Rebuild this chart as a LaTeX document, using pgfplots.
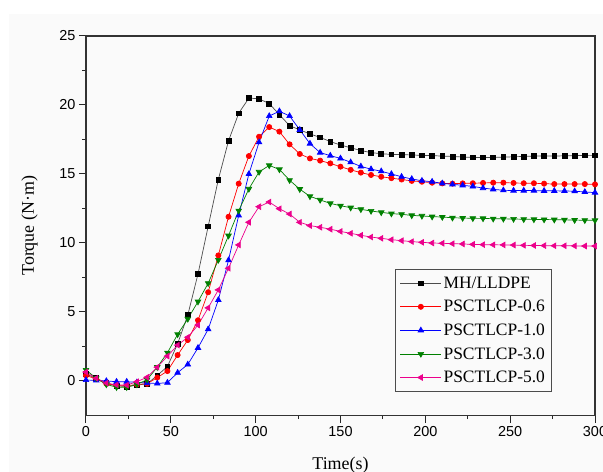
\documentclass[border=0pt]{standalone}
\usepackage{fontspec}
\setmainfont{Liberation Serif}
\newfontfamily\sansf{Liberation Sans}
\usepackage{pgfplots}
\pgfplotsset{compat=1.18}
\usepackage{pgfplotstable}
\definecolor{bgcol}{RGB}{250,250,250}
\definecolor{cgreen}{RGB}{0,128,0}

\pgfplotstableread{
t a b c d e
0 0.5 0.4 0.07 0.8 0.65
6 0.2 0.15 0.05 0.2 0.2
12 -0.15 -0.2 0.0 -0.25 -0.15
18 -0.35 -0.35 -0.05 -0.45 -0.28
24 -0.4 -0.35 -0.05 -0.45 -0.3
30 -0.3 -0.25 -0.1 -0.25 -0.05
36 -0.2 -0.2 -0.15 0.1 0.27
42 0.4 0.25 -0.18 1.0 1.0
48 1.05 0.72 -0.12 2.05 1.8
54 2.7 1.88 0.6 3.38 2.6
60 4.78 2.97 1.2 4.5 3.17
66 7.75 4.4 2.4 5.75 4.05
72 11.2 6.43 3.75 7.08 5.3
78 14.6 9.1 5.87 8.77 6.6
84 17.4 11.9 8.75 10.53 8.17
90 19.4 14.3 12.0 12.34 9.86
96 20.5 16.3 15.0 13.92 11.5
102 20.45 17.7 17.3 15.15 12.63
108 20.1 18.4 19.2 15.62 12.97
114 19.3 18.07 19.55 15.33 12.48
120 18.5 17.15 19.2 14.55 12.1
126 18.2 16.45 18.2 13.9 11.5
132 17.9 16.13 17.2 13.38 11.26
138 17.65 15.97 16.55 13.12 11.14
144 17.35 15.77 16.33 12.87 11.0
150 17.1 15.53 16.13 12.7 10.84
156 16.9 15.3 15.85 12.56 10.7
162 16.7 15.1 15.55 12.44 10.56
168 16.55 14.93 15.35 12.32 10.43
174 16.47 14.8 15.2 12.22 10.34
180 16.42 14.7 15.0 12.13 10.24
186 16.4 14.6 14.8 12.08 10.17
192 16.38 14.5 14.64 12.0 10.1
198 16.35 14.44 14.51 11.96 10.05
204 16.33 14.37 14.44 11.91 10.0
210 16.3 14.32 14.32 11.88 9.98
216 16.27 14.3 14.25 11.83 9.95
222 16.23 14.32 14.18 11.81 9.93
228 16.2 14.33 14.1 11.79 9.9
234 16.2 14.35 13.98 11.78 9.88
240 16.2 14.37 13.89 11.76 9.87
246 16.22 14.37 13.82 11.75 9.86
252 16.25 14.35 13.8 11.74 9.85
258 16.27 14.33 13.8 11.72 9.83
264 16.3 14.33 13.8 11.71 9.82
270 16.3 14.3 13.78 11.70 9.81
276 16.3 14.27 13.78 11.69 9.8
282 16.32 14.27 13.77 11.68 9.8
288 16.33 14.27 13.75 11.66 9.79
294 16.35 14.27 13.7 11.65 9.78
300 16.35 14.25 13.65 11.64 9.78
}\data

\begin{document}
\begin{tikzpicture}
\fill[bgcol] (-77bp,-56.5bp) rectangle (517bp,401.5bp);
\begin{axis}[
  name=ax,
  scale only axis, width=509bp, height=379.5bp,
  xmin=0, xmax=300, ymin=-2.5, ymax=25,
  xtick={0,50,...,300}, ytick={0,5,...,25},
  minor x tick num=1, minor y tick num=1,
  tick align=outside, tick pos=left,
  major tick length=7bp, minor tick length=3.5bp,
  axis line style={line width=1.2bp, black!80},
  every tick/.style={line width=1bp, black!85},
  tick label style={font=\sansf\fontsize{14.5}{16}\selectfont},
  /pgf/number format/assume math mode=true,
  xlabel={Time(s)}, ylabel={Torque (N·m)},
  label style={font=\fontsize{18}{20}\selectfont},
  xlabel style={yshift=-14bp},
  ylabel style={yshift=15bp},
  legend style={at={(0.916,0.385)}, anchor=north east, draw=black!70,
    line width=0.8bp, fill=none, font=\fontsize{17.5}{20}\selectfont,
    row sep=6.5bp, inner xsep=5bp, inner ysep=5bp},
  legend cell align=left,
  legend image code/.code={\draw[mark repeat=2,mark phase=2] plot coordinates {(0cm,0cm) (0.72cm,0cm) (1.44cm,0cm)};},
  every axis plot/.append style={line width=0.7bp},
]
\addplot[black!70, mark=square*, mark size=2.4bp, mark options={draw=black, fill=black, solid}] table[x=t,y=a]{\data};
\addlegendentry{MH/LLDPE}
\addplot[red, mark=*, mark size=2.6bp, mark options={draw=red, fill=red}] table[x=t,y=b]{\data};
\addlegendentry{PSCTLCP-0.6}
\addplot[blue, mark=triangle*, mark size=3.2bp, mark options={draw=blue, fill=blue}] table[x=t,y=c]{\data};
\addlegendentry{PSCTLCP-1.0}
\addplot[cgreen, mark=triangle*, mark size=3.2bp, mark options={draw=cgreen, fill=cgreen, rotate=180}] table[x=t,y=d]{\data};
\addlegendentry{PSCTLCP-3.0}
\addplot[magenta, mark=triangle*, mark size=3.2bp, mark options={draw=magenta, fill=magenta, rotate=90}] table[x=t,y=e]{\data};
\addlegendentry{PSCTLCP-5.0}
\end{axis}
\pgfresetboundingbox
\path[use as bounding box] (-86bp,-56.5bp) rectangle (517bp,415.5bp);
\end{tikzpicture}
\end{document}
